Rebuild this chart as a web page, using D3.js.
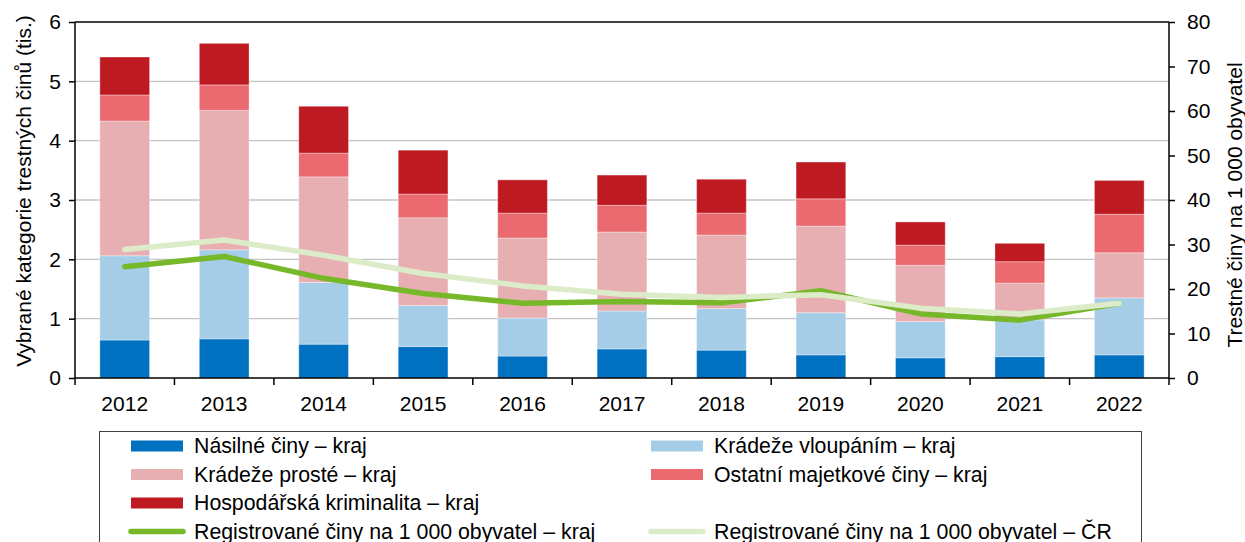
<!DOCTYPE html>
<html>
<head>
<meta charset="utf-8">
<script src="https://cdn.jsdelivr.net/npm/d3@7"></script>
<style>
  body { margin: 0; background: #fff; }
  svg { display: block; font-family: "Liberation Sans", Arial, sans-serif; }
</style>
</head>
<body>
<div id="graf"></div>
<script>
var roky = ["2012", "2013", "2014", "2015", "2016", "2017", "2018", "2019", "2020", "2021", "2022"];

// thousands of crimes, region
var nasilne     = [0.64, 0.66, 0.57, 0.53, 0.37, 0.49, 0.47, 0.39, 0.34, 0.36, 0.39];
var vloupani    = [1.42, 1.50, 1.04, 0.69, 0.64, 0.64, 0.70, 0.71, 0.61, 0.62, 0.96];
var proste      = [2.27, 2.35, 1.78, 1.48, 1.35, 1.33, 1.24, 1.46, 0.95, 0.62, 0.76];
var majetkove   = [0.44, 0.43, 0.40, 0.40, 0.42, 0.45, 0.37, 0.46, 0.34, 0.36, 0.65];
var hospodarska = [0.64, 0.70, 0.79, 0.74, 0.56, 0.51, 0.57, 0.62, 0.39, 0.31, 0.57];

// per 1 000 inhabitants
var naObyvKraj = [25.0, 27.3, 22.4, 19.0, 16.8, 17.2, 16.9, 19.6, 14.4, 13.0, 16.8];
var naObyvCR   = [28.9, 31.0, 27.6, 23.5, 20.7, 18.8, 18.1, 18.7, 15.7, 14.4, 16.8];

var levyTicks = [0, 1, 2, 3, 4, 5, 6];
var pravyTicks = [0, 10, 20, 30, 40, 50, 60, 70, 80];

var serie = [
    { key: "nasilne", nazev: "Násilné činy – kraj", hodnoty: nasilne, barva: "#0070c0" },
    { key: "vloupani", nazev: "Krádeže vloupáním – kraj", hodnoty: vloupani, barva: "#a6cde7" },
    { key: "proste", nazev: "Krádeže prosté – kraj", hodnoty: proste, barva: "#e7afb2" },
    { key: "majetkove", nazev: "Ostatní majetkové činy – kraj", hodnoty: majetkove, barva: "#eb6a70" },
    { key: "hospodarska", nazev: "Hospodářská kriminalita – kraj", hodnoty: hospodarska, barva: "#be1a22" }
];
var linie = [
    { nazev: "Registrované činy na 1 000 obyvatel – kraj", hodnoty: naObyvKraj, barva: "#77b82a" },
    { nazev: "Registrované činy na 1 000 obyvatel – ČR", hodnoty: naObyvCR, barva: "#dcecc9" }
];

var W = 1245, H = 542;
var m = {top: 22, right: 76, bottom: 164, left: 75}
    , w = W - m.left - m.right
    , h = H - m.top - m.bottom;

var svg = d3.select("#graf").append("svg")
    .attr("width", W)
    .attr("height", H);

var x = d3.scaleBand().domain(roky).range([m.left, m.left + w]).paddingInner(0.5).paddingOuter(0.25);
var y = d3.scaleLinear().domain([0, 6]).range([m.top + h, m.top]);
var y2 = d3.scaleLinear().domain([0, 80]).range([m.top + h, m.top]);

// gridlines
svg.append("g").selectAll("line")
    .data(levyTicks.filter(function(d) { return d > 0 && d < 6; }))
    .enter().append("line")
    .attr("x1", m.left).attr("x2", m.left + w)
    .attr("y1", function(d) { return y(d); }).attr("y2", function(d) { return y(d); })
    .attr("stroke", "#c4c4c4").attr("stroke-width", 1.3);

// stacked bars
var data = roky.map(function(r, i) {
    var o = { rok: r };
    serie.forEach(function(s) { o[s.key] = s.hodnoty[i]; });
    return o;
});
var stack = d3.stack().keys(serie.map(function(s) { return s.key; }));
var vrstvy = stack(data);

svg.append("g").selectAll("g")
    .data(vrstvy)
    .enter().append("g")
    .attr("fill", function(d, i) { return serie[i].barva; })
    .selectAll("rect")
    .data(function(d) { return d; })
    .enter().append("rect")
    .attr("x", function(d) { return x(d.data.rok); })
    .attr("width", x.bandwidth())
    .attr("y", function(d) { return y(d[1]); })
    .attr("height", function(d) { return y(d[0]) - y(d[1]); })
    .attr("stroke", "#ffffff").attr("stroke-opacity", 0.35).attr("stroke-width", 1);

// lines
var line = d3.line()
    .x(function(d, i) { return x(roky[i]) + x.bandwidth() / 2; })
    .y(function(d) { return y2(d); });

linie.forEach(function(l) {
    svg.append("path")
        .datum(l.hodnoty)
        .attr("d", line)
        .attr("fill", "none")
        .attr("stroke", l.barva)
        .attr("stroke-width", 5.5)
        .attr("stroke-linecap", "round")
        .attr("stroke-linejoin", "round");
});

// plot frame top
svg.append("line")
    .attr("x1", m.left).attr("x2", m.left + w)
    .attr("y1", m.top).attr("y2", m.top)
    .attr("stroke", "#000").attr("stroke-width", 1.5);

// axes
var fontSize = "21px";

var levaOsa = svg.append("g")
    .attr("transform", "translate(" + m.left + ",0)")
    .call(d3.axisLeft(y).tickValues(levyTicks).tickSize(6).tickPadding(8).tickFormat(d3.format("d")));

var pravaOsa = svg.append("g")
    .attr("transform", "translate(" + (m.left + w) + ",0)")
    .call(d3.axisRight(y2).tickValues(pravyTicks).tickSize(6).tickPadding(12).tickFormat(d3.format("d")));

var dolniOsa = svg.append("g")
    .attr("transform", "translate(0," + (m.top + h) + ")")
    .call(d3.axisBottom(x).tickSize(0).tickPadding(18));

[levaOsa, pravaOsa, dolniOsa].forEach(function(a) {
    a.select(".domain").attr("stroke", "#000").attr("stroke-width", 1.5);
    a.selectAll(".tick line").attr("stroke", "#000").attr("stroke-width", 1.5);
    a.selectAll("text").attr("fill", "#000").style("font-size", fontSize);
});
levaOsa.select(".domain").attr("d", "M0," + y(6) + "V" + y(0));
pravaOsa.select(".domain").attr("d", "M0," + y2(80) + "V" + y2(0));
dolniOsa.select(".domain").attr("d", "M" + m.left + ",0H" + (m.left + w));

// x ticks between categories
var hranice = d3.range(roky.length + 1).map(function(i) { return m.left + i * x.step(); });
dolniOsa.selectAll(".hranice")
    .data(hranice)
    .enter().append("line")
    .attr("class", "hranice")
    .attr("x1", function(d) { return d; }).attr("x2", function(d) { return d; })
    .attr("y1", 0).attr("y2", 7)
    .attr("stroke", "#000").attr("stroke-width", 1.5);

// axis titles
svg.append("text")
    .attr("transform", "translate(24," + 191 + ")rotate(-90)")
    .attr("text-anchor", "middle")
    .attr("dy", "0.35em")
    .style("font-size", "21px")
    .text("Vybrané kategorie trestných činů (tis.)");

svg.append("text")
    .attr("transform", "translate(1235," + 205 + ")rotate(-90)")
    .attr("text-anchor", "middle")
    .attr("dy", "0.35em")
    .style("font-size", "21px")
    .text("Trestné činy na 1 000 obyvatel");

// legend
var leg = svg.append("g");
leg.append("rect")
    .attr("x", 99.5).attr("y", 431.5)
    .attr("width", 1042).attr("height", 130)
    .attr("fill", "none").attr("stroke", "#404040").attr("stroke-width", 1);

var polozky = [
    { s: serie[0], typ: "bar", col: 0, row: 0 },
    { s: serie[1], typ: "bar", col: 1, row: 0 },
    { s: serie[2], typ: "bar", col: 0, row: 1 },
    { s: serie[3], typ: "bar", col: 1, row: 1 },
    { s: serie[4], typ: "bar", col: 0, row: 2 },
    { s: linie[0], typ: "line", col: 0, row: 3 },
    { s: linie[1], typ: "line", col: 1, row: 3 }
];
var colX = [131, 651];
var rowY = [446, 474.5, 503, 531.5];

var li = leg.selectAll(".li")
    .data(polozky)
    .enter().append("g")
    .attr("class", "li")
    .attr("transform", function(d) { return "translate(" + colX[d.col] + "," + rowY[d.row] + ")"; });

li.filter(function(d) { return d.typ === "bar"; }).append("rect")
    .attr("x", 0).attr("y", -5.5)
    .attr("width", 52).attr("height", 11)
    .attr("fill", function(d) { return d.s.barva; });

li.filter(function(d) { return d.typ === "line"; }).append("line")
    .attr("x1", 0).attr("x2", 52)
    .attr("y1", 0).attr("y2", 0)
    .attr("stroke", function(d) { return d.s.barva; })
    .attr("stroke-width", 5.5)
    .attr("stroke-linecap", "round");

li.append("text")
    .attr("x", 63)
    .attr("dy", "0.35em")
    .style("font-size", "21.3px")
    .attr("fill", "#000")
    .text(function(d) { return d.s.nazev; });
</script>
</body>
</html>
